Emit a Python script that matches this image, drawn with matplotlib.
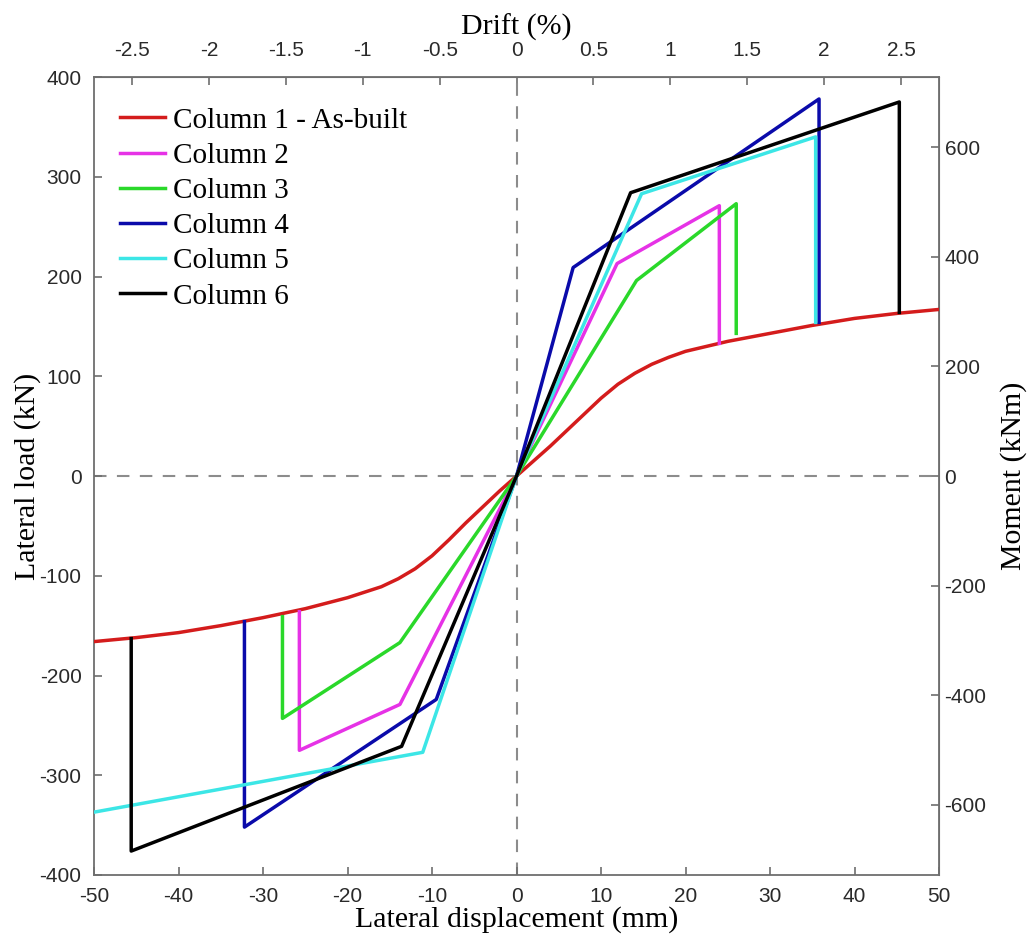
import matplotlib
matplotlib.use('Agg')
import matplotlib.pyplot as plt
import numpy as np

plt.rcParams['axes.unicode_minus'] = False

# column height (m) used to convert displacement -> drift and load -> moment
H = 1.82

labels = ['Column 1 - As-built', 'Column 2', 'Column 3', 'Column 4', 'Column 5', 'Column 6']
colors = ['#d41c1c', '#e632e6', '#2ad82a', '#0a0aaa', '#3ce6e6', '#000000']

# Column 1 - as built (smooth backbone)
c1_x = [-50, -45, -40, -35, -30, -25, -20, -16, -14, -12, -10, -8, -6, -4, -2, 0,
        2, 4, 6, 8, 10, 12, 14, 16, 18, 20, 25, 30, 35, 40, 45, 50]
c1_y = [-166, -162, -157, -150, -142, -133, -122, -111, -103, -93, -80, -64, -47, -31, -15, 0,
        15, 30, 46, 62, 78, 92, 103, 112, 119, 125, 135, 143, 151, 158, 163, 167]

# Columns 2-6 (multilinear)
c2_x = [-25.7, -25.7, -13.8, 0, 11.9, 24.0, 24.0]
c2_y = [-136, -275, -229, 0, 213, 271, 133]

c3_x = [-27.7, -27.7, -13.8, 0, 14.2, 26.0, 26.0]
c3_y = [-141, -243, -167, 0, 196, 273, 143]

c4_x = [-32.2, -32.2, -9.5, 0, 6.7, 35.8, 35.8]
c4_y = [-146, -352, -224, 0, 209, 378, 154]

c5_x = [-50, -11.1, 0, 14.8, 35.4, 35.4]
c5_y = [-337, -277, 0, 283, 340, 154]

c6_x = [-45.6, -45.6, -13.6, 0, 13.5, 45.3, 45.3]
c6_y = [-163, -376, -271, 0, 284, 375, 164]

series_x = [c1_x, c2_x, c3_x, c4_x, c5_x, c6_x]
series_y = [c1_y, c2_y, c3_y, c4_y, c5_y, c6_y]

fig = plt.figure(figsize=(10.31, 9.44), dpi=100)
ax = fig.add_axes([0.0912, 0.0731, 0.8196, 0.8453])

ax.axhline(0, color='#8c8c8c', linestyle=(0, (6, 5)), linewidth=1.5, zorder=1)
ax.axvline(0, color='#8c8c8c', linestyle=(0, (6, 5)), linewidth=1.5, zorder=1)

for x, y, c, lab in zip(series_x, series_y, colors, labels):
    ax.plot(x, y, color=c, linewidth=2.5, label=lab, zorder=3)

ax.set_xlim(-50, 50)
ax.set_ylim(-400, 400)
ax.set_xticks(np.arange(-50, 51, 10))
ax.set_yticks(np.arange(-400, 401, 100))

tick_size = 15
label_font = {'family': 'Liberation Serif', 'size': 21.5}
spine_col = '#6e6e6e'
tick_col = '#2a2a2a'

for sp in ax.spines.values():
    sp.set_color(spine_col)
    sp.set_linewidth(1.3)
ax.tick_params(direction='in', length=6, width=1.2, color=spine_col, labelcolor=tick_col,
               top=False, right=False)
ax.tick_params(axis='x', pad=9)
ax.tick_params(axis='y', pad=9)
for t in ax.get_xticklabels() + ax.get_yticklabels():
    t.set_fontfamily('Liberation Sans')
    t.set_fontsize(tick_size)

ax.set_xlabel('Lateral displacement (mm)', fontdict=label_font, labelpad=0)
ax.set_ylabel('Lateral load (kN)', fontdict=label_font, labelpad=-1)

# drift axis (top)
secx = ax.secondary_xaxis('top', functions=(lambda d: d / (H * 10), lambda p: p * H * 10))
secx.set_xticks(np.arange(-2.5, 2.51, 0.5))
secx.xaxis.set_major_formatter(matplotlib.ticker.FormatStrFormatter('%g'))
secx.tick_params(direction='in', length=6, width=1.2, color=spine_col, labelcolor=tick_col, pad=12)
for t in secx.get_xticklabels():
    t.set_fontfamily('Liberation Sans')
    t.set_fontsize(tick_size)
secx.spines['top'].set_color(spine_col)
secx.set_xlabel('Drift (%)', fontdict=label_font, labelpad=5)

# moment axis (right)
secy = ax.secondary_yaxis('right', functions=(lambda f: f * H, lambda m: m / H))
secy.set_yticks(np.arange(-600, 601, 200))
secy.tick_params(direction='in', length=6, width=1.2, color=spine_col, labelcolor=tick_col, pad=4)
for t in secy.get_yticklabels():
    t.set_fontfamily('Liberation Sans')
    t.set_fontsize(tick_size)
secy.spines['right'].set_color(spine_col)
secy.set_ylabel('Moment (kNm)', fontdict=label_font, labelpad=10)

leg = ax.legend(loc='upper left', frameon=False, prop={'family': 'Liberation Serif', 'size': 21},
                handlelength=1.55, handletextpad=0.25, labelspacing=0.3,
                bbox_to_anchor=(0.0, 0.995), borderaxespad=0.5)

fig.savefig('out.png', dpi=100)
